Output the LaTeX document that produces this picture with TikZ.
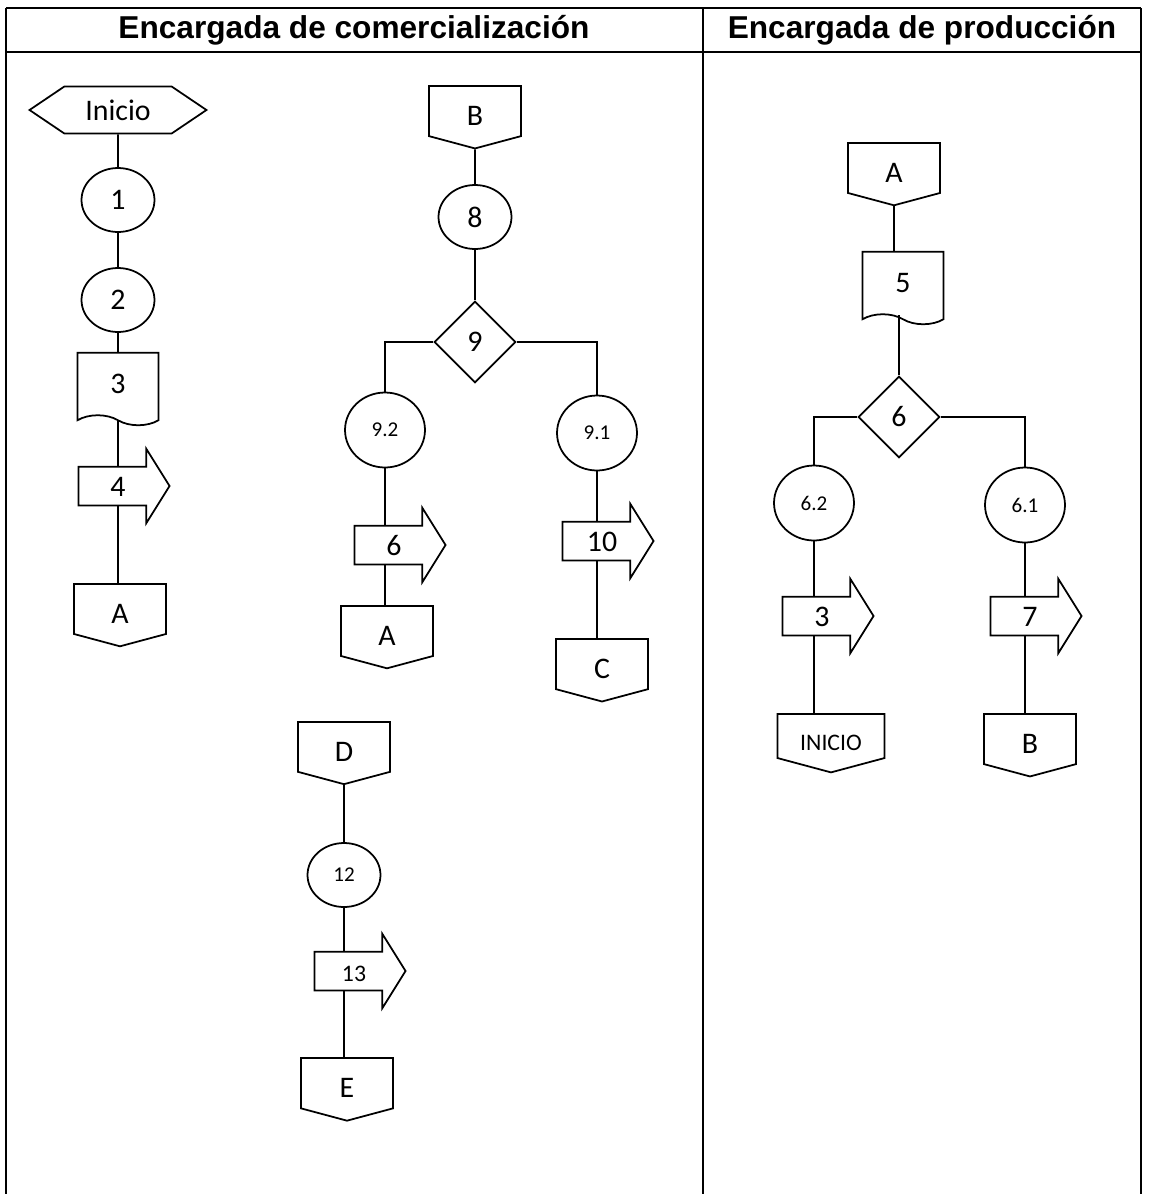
\documentclass[tikz,border=0pt]{standalone}
\usepackage{fontspec}
\setmainfont{Carlito}
\newfontfamily\headfont{Liberation Sans}
\usetikzlibrary{shapes.geometric,shapes.symbols,shapes.arrows}

\begin{document}
\begin{tikzpicture}[x=0.02cm,y=-0.02cm,line width=1pt,
    every node/.style={font=\fontsize{17}{20}\selectfont},
    small/.style={font=\fontsize{12}{14}\selectfont},
    mid/.style={font=\fontsize{13.5}{16}\selectfont},
    head/.style={font=\headfont\bfseries\fontsize{18}{21}\selectfont},
    startbox/.style={draw, signal, signal to=east and west, signal pointer angle=68,
        minimum width=3.54cm, minimum height=0.94cm},
    opcircle/.style={draw, ellipse, minimum width=1.46cm, minimum height=1.28cm, inner sep=0pt},
    subcircle/.style={draw, ellipse, minimum width=1.6cm, minimum height=1.5cm, inner sep=0pt, small},
    docbox/.style={draw, tape, tape bend top=none, tape bend bottom=out and in,
        tape bend height=0.2cm, minimum width=1.62cm, minimum height=1.45cm},
    offpage/.style={draw, signal, signal to=south, signal pointer angle=150,
        minimum width=1.84cm, minimum height=1.08cm, anchor=north,
        text height=0.58cm, text depth=0pt},
    sendarrow/.style={draw, single arrow, single arrow head extend=0.36cm,
        single arrow tip angle=116, minimum height=1.82cm, minimum width=1.46cm,
        text height=0.4cm, text depth=0pt, inner xsep=1pt, inner ysep=0.17cm},
    decision/.style={draw, diamond, aspect=1, minimum size=1.63cm, inner sep=0pt}]
    \useasboundingbox (0,0) rectangle (1150,1194);

    % encabezado
    \draw (6,8) -- (1141,8);
    \draw (6,52) -- (1141,52);
    \draw (6,8) -- (6,1194);
    \draw (703,8) -- (703,1194);
    \draw (1141,8) -- (1141,1194);
    \node[head] (hcom) at (354,30) {Encargada de comercialización};
    \node[head] (hpro) at (922,30) {Encargada de producción};

    % comercializacion, primera columna
    \node[startbox] (ini) at (118,110) {Inicio};
    \node[opcircle] (op1) at (118,200) {1};
    \node[opcircle] (op2) at (118,300) {2};
    \node[docbox] (doc3) at (118,384) {3};
    \node[sendarrow] (out4) at (118,486) {4};
    \node[offpage] (offA1) at (120,583) {A};
    \draw (ini) -- (op1);
    \draw (op1) -- (op2);
    \draw (op2) -- (doc3);
    \draw (doc3) -- (out4);
    \draw (out4.270) -- (out4.270 |- offA1.north);

    % comercializacion, conector B
    \node[offpage] (offB1) at (475,85) {B};
    \node[opcircle] (op8) at (475,217) {8};
    \node[decision] (dec9) at (475,342) {9};
    \node[subcircle] (op92) at (385,430) {9.2};
    \node[subcircle] (op91) at (597,433) {9.1};
    \node[sendarrow] (out6) at (394,545) {6};
    \node[offpage] (offA2) at (387,605) {A};
    \node[sendarrow] (out10) at (602,541) {10};
    \node[offpage] (offC) at (602,638) {C};
    \draw (offB1.270) -- (op8);
    \draw (op8) -- (dec9);
    \draw (dec9.west) -| (op92.north);
    \draw (dec9.east) -| (op91.north);
    \draw (op92) -- (op92 |- out6.90);
    \draw (op92 |- out6.270) -- (op92 |- offA2.north);
    \draw (op91) -- (op91 |- out10.90);
    \draw (op91 |- out10.270) -- (op91 |- offC.north);

    % comercializacion, conector D
    \node[offpage] (offD) at (344,721) {D};
    \node[opcircle, small] (op12) at (344,875) {12};
    \node[sendarrow, mid] (out13) at (354,971) {13};
    \node[offpage] (offE) at (347,1057) {E};
    \draw (offD.270) -- (op12);
    \draw (op12) -- (op12 |- out13.90);
    \draw (op12 |- out13.270) -- (op12 |- offE.north);

    % produccion
    \node[offpage] (offA3) at (894,142) {A};
    \node[docbox] (doc5) at (903,283) {5};
    \node[decision] (dec6) at (899,417) {6};
    \node[subcircle] (op62) at (814,503) {6.2};
    \node[subcircle] (op61) at (1025,505) {6.1};
    \node[sendarrow] (out3) at (822,616) {3};
    \node[sendarrow] (out7) at (1030,616) {7};
    \node[offpage, minimum width=2.14cm, mid] (offIni) at (831,713) {INICIO};
    \node[offpage] (offB2) at (1030,713) {B};
    \draw (offA3.270) -- (offA3.270 |- doc5.north);
    \draw (dec6 |- doc5.south) -- (dec6);
    \draw (dec6.west) -| (op62.north);
    \draw (dec6.east) -| (op61.north);
    \draw (op62) -- (op62 |- out3.90);
    \draw (op62 |- out3.270) -- (op62 |- offIni.north);
    \draw (op61) -- (op61 |- out7.90);
    \draw (op61 |- out7.270) -- (op61 |- offB2.north);
\end{tikzpicture}
\end{document}
